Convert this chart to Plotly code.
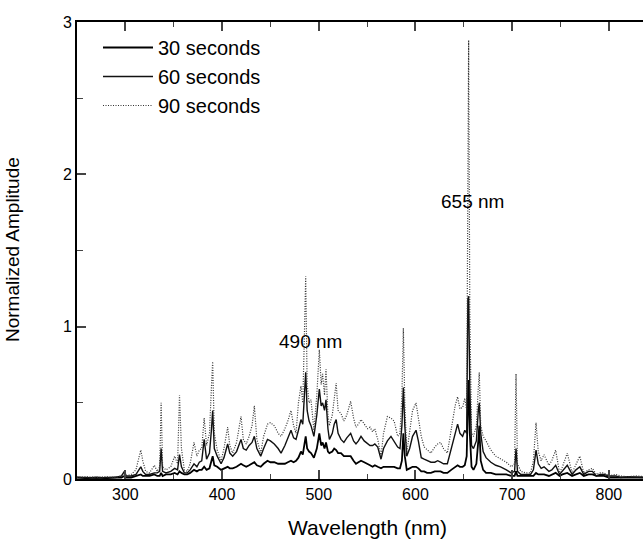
import plotly.graph_objects as go

wavelength = [250, 260, 270, 280, 290, 296, 299, 301, 306, 311, 314, 316, 318, 321, 325, 330, 333, 335.5, 337, 338.5,
              342, 347, 351, 354, 356, 358, 361, 364, 367, 371, 374, 376.5, 379, 381.5, 384, 387, 389, 390.3, 392, 395,
              399, 402, 405.8, 408, 411, 415, 419.6, 422, 425, 428, 431, 433.4, 436, 440, 443, 447, 450, 454, 458, 461,
              465, 468, 471.3, 474, 476.5, 479, 481.6, 483.5, 485, 486.5, 488, 490, 492, 495, 498, 500.6, 502.5, 504, 506, 507.5,
              509.5, 511, 514, 516, 518, 520, 523, 526, 529, 533, 536, 538.5, 541, 543.7, 547, 550.6, 553, 555.7, 558, 561,
              564.4, 567, 571, 574.7, 578, 581.6, 584, 586, 587.5, 589, 591, 594, 597, 600.6, 603, 606, 609, 612, 616, 620,
              623, 626, 629, 633, 637, 641, 643.6, 646, 648.8, 651, 653, 654.2, 655, 656.2, 658, 660, 663, 665, 666, 667.5,
              670, 673, 678, 683, 688, 694, 699, 702.5, 704, 705.5, 709, 714, 719, 722, 724.7, 727, 730, 733, 738, 741,
              745, 749, 752, 757, 762, 766, 770, 774, 779, 783, 787, 791, 795, 800, 807, 812, 820, 828, 836, 845, 850]

amp_30s = [0.01, 0.005, 0.01, 0.005, 0.01, 0.01, 0.02, 0.01, 0.01, 0.02, 0.03, 0.03, 0.02, 0.02, 0.02, 0.03, 0.02, 0.02, 0.04, 0.02,
           0.03, 0.03, 0.04, 0.03, 0.05, 0.04, 0.03, 0.03, 0.04, 0.06, 0.05, 0.06, 0.06, 0.08, 0.06, 0.07, 0.12, 0.15, 0.09, 0.08,
           0.06, 0.07, 0.08, 0.07, 0.07, 0.08, 0.10, 0.09, 0.08, 0.09, 0.10, 0.11, 0.09, 0.08, 0.10, 0.12, 0.11, 0.11, 0.10, 0.10,
           0.10, 0.11, 0.12, 0.11, 0.12, 0.14, 0.18, 0.16, 0.22, 0.28, 0.20, 0.18, 0.17, 0.14, 0.20, 0.30, 0.22, 0.24, 0.20, 0.24,
           0.18, 0.17, 0.18, 0.20, 0.19, 0.17, 0.17, 0.15, 0.15, 0.15, 0.12, 0.10, 0.11, 0.12, 0.11, 0.10, 0.09, 0.08, 0.09, 0.08,
           0.07, 0.08, 0.08, 0.08, 0.08, 0.07, 0.07, 0.12, 0.30, 0.15, 0.06, 0.07, 0.08, 0.08, 0.07, 0.05, 0.05, 0.04, 0.04, 0.05,
           0.05, 0.05, 0.04, 0.04, 0.06, 0.08, 0.09, 0.08, 0.08, 0.09, 0.15, 0.50, 0.65, 0.30, 0.08, 0.06, 0.10, 0.25, 0.35, 0.12,
           0.06, 0.04, 0.04, 0.03, 0.03, 0.03, 0.02, 0.02, 0.05, 0.02, 0.02, 0.02, 0.02, 0.02, 0.04, 0.03, 0.03, 0.03, 0.02, 0.03,
           0.04, 0.02, 0.03, 0.04, 0.02, 0.03, 0.04, 0.02, 0.03, 0.03, 0.02, 0.02, 0.02, 0.01, 0.01, 0.01, 0.01, 0.01, 0.01, 0.01, 0.01]

amp_60s = [0.01, 0.01, 0.005, 0.01, 0.01, 0.02, 0.05, 0.02, 0.02, 0.03, 0.06, 0.08, 0.05, 0.03, 0.03, 0.04, 0.04, 0.05, 0.20, 0.05,
           0.04, 0.05, 0.07, 0.06, 0.16, 0.08, 0.04, 0.04, 0.06, 0.10, 0.08, 0.11, 0.12, 0.26, 0.13, 0.17, 0.32, 0.45, 0.20, 0.15,
           0.10, 0.14, 0.23, 0.17, 0.15, 0.18, 0.26, 0.20, 0.19, 0.22, 0.24, 0.28, 0.20, 0.15, 0.20, 0.26, 0.25, 0.23, 0.20, 0.17,
           0.22, 0.27, 0.32, 0.27, 0.26, 0.32, 0.39, 0.36, 0.55, 0.70, 0.45, 0.38, 0.35, 0.28, 0.42, 0.59, 0.48, 0.50, 0.45, 0.52,
           0.33, 0.26, 0.30, 0.36, 0.39, 0.30, 0.26, 0.24, 0.27, 0.30, 0.25, 0.23, 0.25, 0.28, 0.25, 0.23, 0.22, 0.22, 0.23, 0.21,
           0.13, 0.20, 0.25, 0.28, 0.25, 0.21, 0.20, 0.35, 0.60, 0.35, 0.15, 0.20, 0.28, 0.32, 0.25, 0.14, 0.13, 0.12, 0.11, 0.11,
           0.12, 0.11, 0.10, 0.10, 0.20, 0.30, 0.36, 0.30, 0.28, 0.32, 0.30, 1.18, 1.20, 0.60, 0.22, 0.20, 0.25, 0.45, 0.50, 0.30,
           0.18, 0.14, 0.11, 0.09, 0.08, 0.06, 0.04, 0.05, 0.20, 0.05, 0.03, 0.03, 0.03, 0.06, 0.19, 0.10, 0.07, 0.08, 0.05, 0.06,
           0.09, 0.03, 0.05, 0.09, 0.03, 0.06, 0.08, 0.03, 0.05, 0.05, 0.02, 0.03, 0.03, 0.02, 0.02, 0.01, 0.015, 0.01, 0.01, 0.01, 0.01]

amp_90s = [0.01, 0.015, 0.01, 0.015, 0.01, 0.02, 0.04, 0.02, 0.03, 0.06, 0.14, 0.19, 0.12, 0.05, 0.04, 0.09, 0.05, 0.08, 0.50, 0.08,
           0.06, 0.08, 0.15, 0.10, 0.55, 0.20, 0.06, 0.05, 0.10, 0.24, 0.15, 0.19, 0.20, 0.40, 0.22, 0.30, 0.60, 0.77, 0.30, 0.19,
           0.12, 0.20, 0.34, 0.22, 0.17, 0.24, 0.41, 0.26, 0.23, 0.28, 0.35, 0.48, 0.26, 0.17, 0.28, 0.36, 0.37, 0.35, 0.30, 0.28,
           0.33, 0.38, 0.45, 0.35, 0.30, 0.50, 0.61, 0.50, 0.90, 1.33, 0.62, 0.50, 0.52, 0.32, 0.55, 0.85, 0.62, 0.69, 0.55, 0.72,
           0.42, 0.35, 0.42, 0.55, 0.63, 0.45, 0.43, 0.38, 0.42, 0.51, 0.40, 0.34, 0.36, 0.39, 0.36, 0.33, 0.34, 0.31, 0.33, 0.26,
           0.15, 0.30, 0.41, 0.40, 0.38, 0.28, 0.30, 0.55, 0.99, 0.50, 0.17, 0.30, 0.45, 0.50, 0.40, 0.28, 0.21, 0.19, 0.17, 0.21,
           0.23, 0.24, 0.20, 0.17, 0.34, 0.48, 0.54, 0.46, 0.47, 0.53, 0.45, 2.20, 2.88, 1.10, 0.30, 0.28, 0.35, 0.60, 0.70, 0.35,
           0.28, 0.25, 0.19, 0.15, 0.13, 0.11, 0.08, 0.10, 0.69, 0.10, 0.05, 0.04, 0.04, 0.12, 0.37, 0.18, 0.12, 0.16, 0.09, 0.12,
           0.19, 0.04, 0.08, 0.17, 0.04, 0.10, 0.15, 0.04, 0.06, 0.07, 0.03, 0.04, 0.04, 0.02, 0.03, 0.02, 0.015, 0.02, 0.015, 0.01, 0.01]

series_names = ["30 seconds", "60 seconds", "90 seconds"]
x_ticks = [300, 400, 500, 600, 700, 800]
y_ticks = [0, 1, 2, 3]
peak_labels = ["490 nm", "655 nm"]

FONT = "Liberation Sans, Arial, sans-serif"

PL, PT, PB = 77, 22, 479          # plot area edges in window pixels
W, H = 643, 544
PW, PH = W - PL, PB - PT


def px_x(px):
    return (px - PL) / PW


def px_y(py):
    return (PB - py) / PH


fig = go.Figure()
fig.add_trace(go.Scatter(x=wavelength, y=amp_30s, mode="lines", name=series_names[0], legendgroup="a",
                         line=dict(color="#000000", width=1.8)))
fig.add_trace(go.Scatter(x=wavelength, y=amp_60s, mode="lines", name=series_names[1], legendgroup="b",
                         line=dict(color="#111111", width=1.4)))
fig.add_trace(go.Scatter(x=wavelength, y=amp_90s, mode="lines", name=series_names[2], legendgroup="c",
                         line=dict(color="#333333", width=1.2, dash="1px,1.5px")))

fig.add_annotation(xref="paper", yref="paper", x=px_x(310), y=px_y(341), text=peak_labels[0], showarrow=False,
                   xanchor="center", yanchor="middle", font=dict(size=19, color="#000"))
fig.add_annotation(xref="paper", yref="paper", x=px_x(472), y=px_y(201), text=peak_labels[1], showarrow=False,
                   xanchor="center", yanchor="middle", font=dict(size=19, color="#000"))

fig.add_annotation(xref="paper", yref="paper", x=px_x(367), y=px_y(527),
                   text="Wavelength (nm)", showarrow=False, xanchor="center", yanchor="middle",
                   font=dict(size=21, color="#000"))
fig.add_annotation(xref="paper", yref="paper", x=px_x(12), y=px_y(250),
                   text="Normalized Amplitude", showarrow=False, textangle=-90, xanchor="center", yanchor="middle",
                   font=dict(size=19, color="#000"))

fig.update_layout(
    width=W, height=H,
    margin=dict(l=PL, r=0, t=PT, b=H - PB),
    paper_bgcolor="white", plot_bgcolor="white",
    font=dict(family=FONT, color="#000"),
    showlegend=True,
    legend=dict(x=px_x(98), y=px_y(28), xanchor="left", yanchor="top",
                bgcolor="rgba(0,0,0,0)", font=dict(size=20), tracegroupgap=0, itemwidth=50),
)
fig.update_xaxes(range=[250, 250 + PW / 0.967], tickvals=x_ticks, ticks="inside", ticklen=9, tickwidth=1.5,
                 showline=True, linecolor="#000", linewidth=1.6, mirror="ticks", showgrid=False, zeroline=False,
                 tickfont=dict(size=16),
                 minor=dict(tickvals=[250, 350, 450, 550, 650, 750], ticks="inside", ticklen=5, tickwidth=1.2))
fig.update_yaxes(range=[0, 3], tickvals=y_ticks, ticks="inside", ticklen=9, tickwidth=1.5,
                 showline=True, linecolor="#000", linewidth=1.6, mirror=False, showgrid=False, zeroline=False,
                 tickfont=dict(size=16),
                 minor=dict(tickvals=[0.5, 1.5, 2.5], ticks="inside", ticklen=6, tickwidth=1.2))

# remove the default 8px page margin so the figure fills the window from its top-left corner
fig.write_html("out.html", config={"displayModeBar": False},
               post_script="document.body.style.margin='0';document.body.style.overflow='hidden';")
